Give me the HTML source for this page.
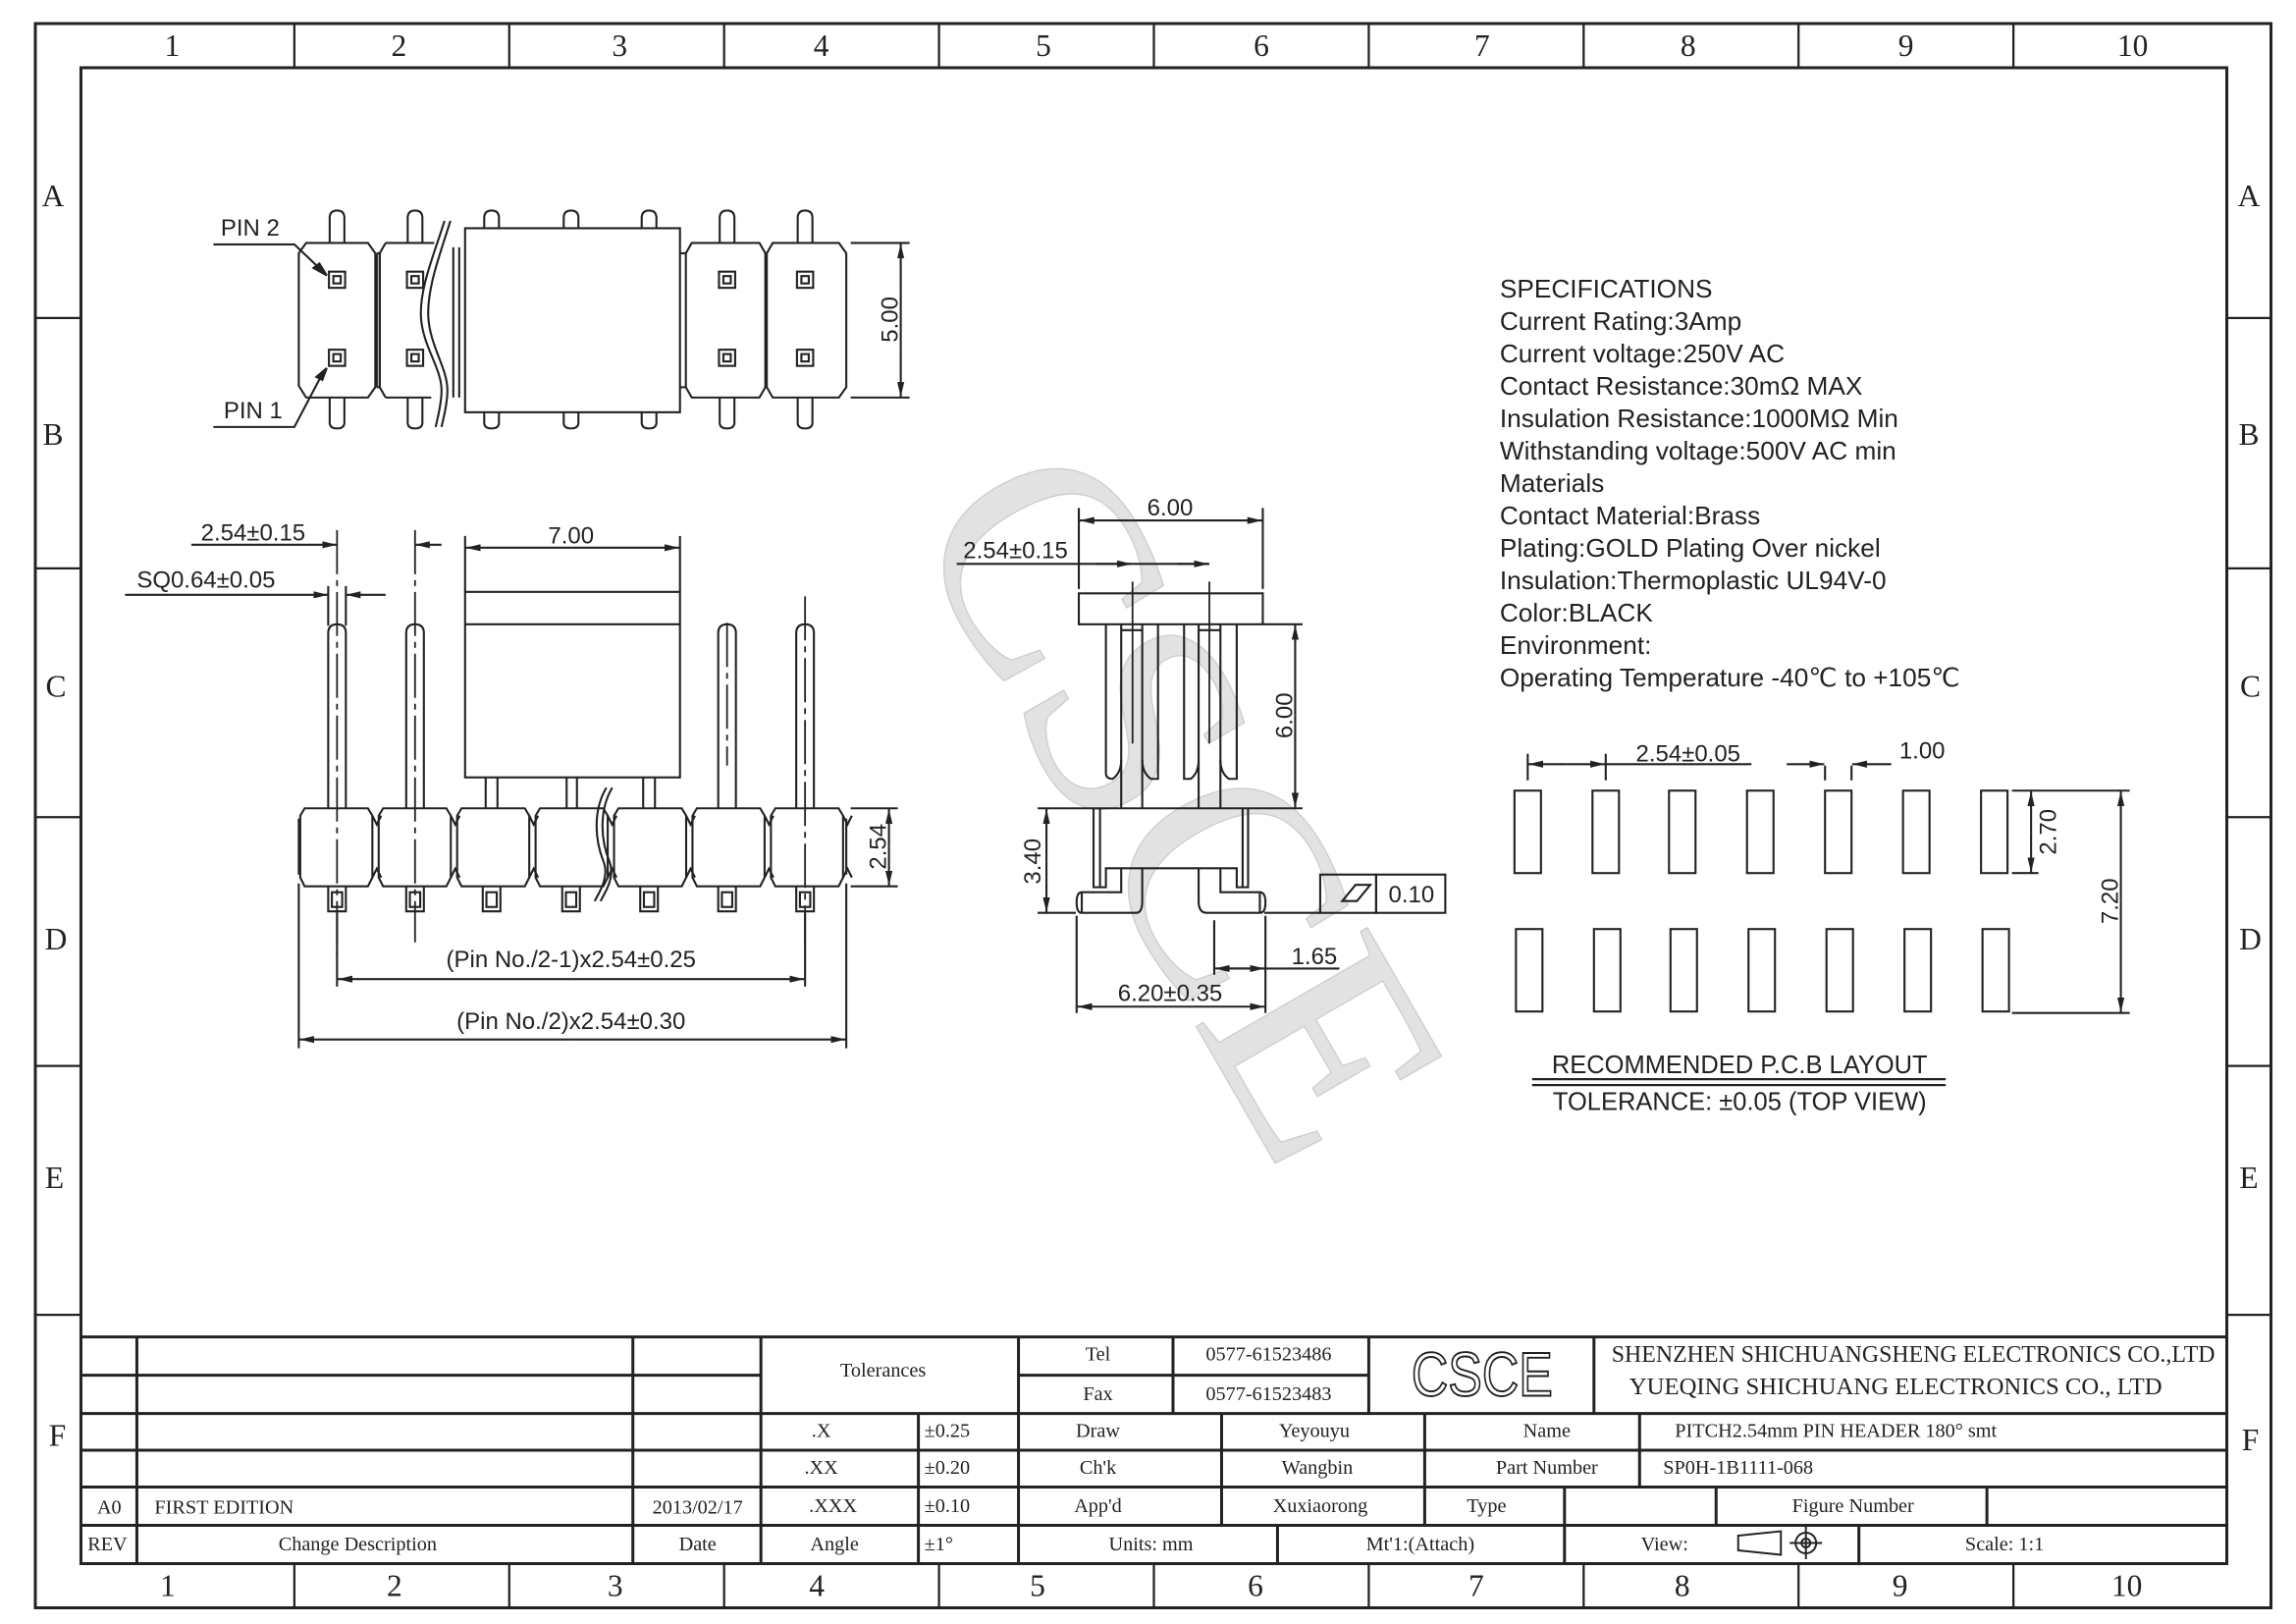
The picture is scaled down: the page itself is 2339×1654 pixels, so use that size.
<!DOCTYPE html>
<html><head><meta charset="utf-8"><style>
html,body{margin:0;padding:0;background:#fff}
svg{display:block}
.d{font-family:"Liberation Sans",Arial,sans-serif;fill:#222}
.s{font-family:"Liberation Serif",serif;fill:#222}
</style></head><body>
<svg xmlns="http://www.w3.org/2000/svg" width="2339" height="1654" viewBox="0 0 1560 1103" preserveAspectRatio="none">
<defs>
<marker id="a" viewBox="0 0 10 6" refX="10" refY="3" markerWidth="10" markerHeight="6" markerUnits="userSpaceOnUse" orient="auto-start-reverse"><path d="M0,0.6 L10,3 L0,5.4z" fill="#222"/></marker>
</defs>
<rect width="1560" height="1103" fill="#fff"/>
<!-- watermark -->
<text x="785" y="555" transform="rotate(60 785 555)" text-anchor="middle" dominant-baseline="middle" font-family="Liberation Serif,serif" font-size="205" fill="#e2e2e2" stroke="#d0d0d0" stroke-width="1">CSCE</text>

<g fill="none" stroke="#222">
<!-- frames -->
<rect x="24" y="16" width="1519" height="1076" stroke-width="2"/>
<rect x="55" y="46" width="1458" height="1016" stroke-width="2"/>
<g stroke-width="1.5">
<path d="M200 16V46M346 16V46M492 16V46M638 16V46M784 16V46M930 16V46M1076 16V46M1222 16V46M1368 16V46"/>
<path d="M200 1062V1092M346 1062V1092M492 1062V1092M638 1062V1092M784 1062V1092M930 1062V1092M1076 1062V1092M1222 1062V1092M1368 1062V1092"/>
<path d="M24 216H55M24 386H55M24 555H55M24 724H55M24 893H55M1513 216H1543M1513 386H1543M1513 555H1543M1513 724H1543M1513 893H1543"/>
</g>
<!-- title block -->
<g stroke-width="2">
<path d="M55 908H1513M55 934H517M692 934H930M55 960H1513M55 985H1513M55 1010H1513M55 1036H1513"/>
<path d="M93 908V1062M430 908V1062M517 908V1062M692 908V1062M624 960V1062M797 908V960M930 908V960M1083 908V960M830 960V1036M968 960V1036M1114 960V1010M1063 1010V1062M1166 1010V1036M1350 1010V1036M868 1036V1062M1263 1036V1062"/>
</g>
<!-- view icon -->
<path d="M1181 1043L1210 1040V1056L1181 1053Z M1181 1046V1050" stroke-width="1.3"/>
<circle cx="1227" cy="1048" r="7" stroke-width="1.3"/><circle cx="1227" cy="1048" r="3" stroke-width="1.3"/>
<path d="M1216 1048H1238M1227 1037V1059" stroke-width="1.3"/>

<g stroke-width="1.4">
<!-- TOP VIEW -->
<g id="tp">
<path d="M224 165V148Q224 143 229 143Q234 143 234 148V165M224 270V287Q224 291 229 291Q234 291 234 287V270"/>
<rect x="223.5" y="184.5" width="11" height="11"/><rect x="226.5" y="187.5" width="5" height="5"/>
<rect x="223.5" y="237.5" width="11" height="11"/><rect x="226.5" y="240.5" width="5" height="5"/>
</g>
<use href="#tp" x="53"/><use href="#tp" x="265"/><use href="#tp" x="318"/>
<path d="M329 155V148Q329 143 334 143Q339 143 339 148V155M383 155V148Q383 143 388 143Q393 143 393 148V155M436 155V148Q436 143 441 143Q446 143 446 148V155"/>
<path d="M329 280V287Q329 291 334 291Q339 291 339 287V280M383 280V287Q383 291 388 291Q393 291 393 287V280M436 280V287Q436 291 441 291Q446 291 446 287V280"/>
<rect x="316" y="155" width="146" height="125"/>
<path d="M208 165H250L255 172V263L250 270H208L203 262V172Z"/>
<path d="M262 165H295M262 270H293M262 165L258 172V263L262 270"/>
<path d="M256 172H258M256 263H258M256 172V263M258 172V263"/>
<path d="M470 165H516L520 172V263L516 270H470L466 263V172Z"/>
<path d="M525 165H570L575 172V263L570 270H525L521 263V172Z"/>
<path d="M462 172H466M462 263H466"/>
<path d="M308 168V270M312 168V270"/>
<path d="M302 150C296 170 285 195 286 215C287 235 300 250 300 265C300 275 297 285 296 290M306 150C300 170 290 195 291 215C292 235 304 250 304 265C304 275 301 285 300 290"/>
<!-- 5.00 -->
<path d="M578 165H618M578 270H618"/>
<line x1="612" y1="200" x2="612" y2="165.5" marker-end="url(#a)"/><line x1="612" y1="235" x2="612" y2="269.5" marker-end="url(#a)"/>
<line x1="612" y1="200" x2="612" y2="235"/>
<!-- pin leaders -->
<path d="M145 166H200L220 185M145 290H200L220 252"/>
<path d="M222 187L213 182L217 179Z M222 250L215 256L219 258Z" fill="#222"/>

<!-- FRONT VIEW -->
<g id="fb">
<path d="M207 549H250L253 554V596L250 602H207L204 596V554Z"/>
<path d="M253 554L256 560L259 554M253 596L256 590L259 596"/>
</g>
<use href="#fb" x="53.3"/><use href="#fb" x="106.6"/><use href="#fb" x="159.9"/><use href="#fb" x="213.2"/><use href="#fb" x="266.5"/><use href="#fb" x="319.8"/>
<path d="M203 556V594M575 556V594"/>
<g id="tall"><path d="M223 549V430Q223 424 229 424Q235 424 235 430V549"/></g>
<use href="#tall" x="53"/><use href="#tall" x="265"/><use href="#tall" x="318"/>
<g id="sq"><path d="M223 602V619H235V602"/><rect x="225.5" y="606" width="7" height="10"/></g>
<use href="#sq" x="53"/><use href="#sq" x="105"/><use href="#sq" x="159"/><use href="#sq" x="212"/><use href="#sq" x="265"/><use href="#sq" x="318"/>
<rect x="316" y="402" width="146" height="126"/><path d="M316 424H462"/>
<path d="M330 528V549M338 528V549M385 528V549M392 528V549M437 528V549M445 528V549"/>
<path d="M412 535C403 550 404 570 410 585C414 595 408 605 404 612M416 535C407 550 408 570 414 585C418 595 412 605 408 612" stroke="#222"/>
<path d="M229 360V655M282 360V640M547 405V640M494 423V520" stroke-dasharray="30 4 4 4" stroke-width="1.2"/>
<!-- dims front -->
<line x1="130" y1="370" x2="229" y2="370" marker-end="url(#a)"/><line x1="300" y1="370" x2="282" y2="370" marker-end="url(#a)"/>
<path d="M223 398V425M235 398V425"/>
<line x1="85" y1="404" x2="223" y2="404" marker-end="url(#a)"/><line x1="262" y1="404" x2="235" y2="404" marker-end="url(#a)"/>
<path d="M316 364V402M462 364V402"/>
<line x1="389" y1="372" x2="316.5" y2="372" marker-end="url(#a)"/><line x1="389" y1="372" x2="461.5" y2="372" marker-end="url(#a)"/>
<path d="M578 549H610M578 602H610"/>
<line x1="604" y1="575" x2="604" y2="549.5" marker-end="url(#a)"/><line x1="604" y1="575" x2="604" y2="601.5" marker-end="url(#a)"/>
<path d="M229 620V670M547 620V670M203 600V712M575 600V712"/>
<line x1="388" y1="665" x2="229.5" y2="665" marker-end="url(#a)"/><line x1="388" y1="665" x2="546.5" y2="665" marker-end="url(#a)"/>
<line x1="388" y1="706" x2="203.5" y2="706" marker-end="url(#a)"/><line x1="388" y1="706" x2="574.5" y2="706" marker-end="url(#a)"/>

<!-- SIDE VIEW -->
<rect x="733" y="403" width="125" height="21"/>
<path d="M751.4 424V525Q751.4 529 756 529Q761.8 525 761.8 516"/>
<path d="M761.8 424V549M776.1 424V549M814.4 424V549M829.2 424V549"/>
<path d="M776.1 516Q776.1 525 782 529H786.8V424M804.5 424V529H809Q814.4 525 814.4 516"/>
<path d="M829.2 516Q829.2 525 835 529H840.3V424"/>
<path d="M762 428H776M814 428H829"/>
<path d="M769.5 395V505M821.7 395V505" stroke-width="1.2"/>
<path d="M743 549H848M743 549V602.6H751.4V589.7H840.3V602.6H848V549M747.4 549V602.6M844.3 549V602.6"/>
<path d="M761.8 589.7V606H735Q731.5 606 731.5 613Q731.5 620 735 620H772Q776.1 620 776.1 612V589.7"/>
<path d="M829.2 589.7V606H856Q859.8 606 859.8 613Q859.8 620 856 620H820Q814.4 620 814.4 612V589.7"/>
<path d="M735 606V620M856 606V620"/>
<!-- side dims -->
<path d="M733 345V400M858 345V400"/>
<line x1="795" y1="353.5" x2="733.5" y2="353.5" marker-end="url(#a)"/><line x1="795" y1="353.5" x2="857.5" y2="353.5" marker-end="url(#a)"/>
<path d="M650 383H769.5"/>
<line x1="745" y1="383" x2="769" y2="383" marker-end="url(#a)"/><line x1="800" y1="383" x2="821.2" y2="383" marker-end="url(#a)" />
<path d="M769.5 383H821.7"/>
<path d="M858 424H885M848 549H885"/>
<line x1="880" y1="486" x2="880" y2="424.5" marker-end="url(#a)"/><line x1="880" y1="486" x2="880" y2="548.5" marker-end="url(#a)"/>
<path d="M705 549H743M705 620H731"/>
<line x1="711" y1="585" x2="711" y2="549.5" marker-end="url(#a)"/><line x1="711" y1="585" x2="711" y2="619.5" marker-end="url(#a)"/>
<path d="M731.5 622V688M859.8 622V688M825 625V662"/>
<line x1="795" y1="683.7" x2="732" y2="683.7" marker-end="url(#a)"/><line x1="795" y1="683.7" x2="859.3" y2="683.7" marker-end="url(#a)"/>
<line x1="910" y1="657.8" x2="825.5" y2="657.8"/>
<line x1="842" y1="657.8" x2="825.5" y2="657.8" marker-end="url(#a)"/><line x1="842" y1="657.8" x2="859.3" y2="657.8" marker-end="url(#a)"/>
<path d="M859 620H897"/>
<rect x="897" y="594" width="38" height="26"/><rect x="935" y="594" width="47" height="26"/>
<path d="M912 612L921 601H931L922 612Z"/>

<!-- PCB -->
<g id="pads">
<rect x="1029" y="537" width="18" height="56"/><rect x="1082" y="537" width="18" height="56"/><rect x="1134" y="537" width="18" height="56"/><rect x="1187" y="537" width="18" height="56"/><rect x="1240" y="537" width="18" height="56"/><rect x="1293" y="537" width="18" height="56"/><rect x="1346" y="537" width="18" height="56"/>
</g>
<use href="#pads" x="1" y="94"/>
<path d="M1038 512V530M1091 512V530M1240 520V530M1258 520V530"/>
<line x1="1064" y1="519" x2="1038.5" y2="519" marker-end="url(#a)"/><line x1="1064" y1="519" x2="1090.5" y2="519" marker-end="url(#a)"/>
<path d="M1091 519H1190"/>
<line x1="1214" y1="519" x2="1239.5" y2="519" marker-end="url(#a)"/><line x1="1285" y1="519" x2="1258.5" y2="519" marker-end="url(#a)"/>
<path d="M1367 537H1447M1367 593H1385M1367 688H1447"/>
<line x1="1380" y1="565" x2="1380" y2="537.5" marker-end="url(#a)"/><line x1="1380" y1="565" x2="1380" y2="592.5" marker-end="url(#a)"/>
<line x1="1441" y1="612" x2="1441" y2="537.5" marker-end="url(#a)"/><line x1="1441" y1="612" x2="1441" y2="687.5" marker-end="url(#a)"/>
<path d="M1041 733H1322M1041 737H1322" stroke-width="1.5"/>
</g>
</g>

<!-- column / row labels -->
<g class="s" font-size="21" text-anchor="middle">
<text x="117" y="38">1</text><text x="271" y="38">2</text><text x="421" y="38">3</text><text x="558" y="38">4</text><text x="709" y="38">5</text><text x="857" y="38">6</text><text x="1007" y="38">7</text><text x="1147" y="38">8</text><text x="1295" y="38">9</text><text x="1449" y="38">10</text>
<text x="114" y="1084">1</text><text x="268" y="1084">2</text><text x="418" y="1084">3</text><text x="555" y="1084">4</text><text x="705" y="1084">5</text><text x="853" y="1084">6</text><text x="1003" y="1084">7</text><text x="1143" y="1084">8</text><text x="1291" y="1084">9</text><text x="1445" y="1084">10</text>
<text x="36" y="140">A</text><text x="36" y="302">B</text><text x="38" y="473">C</text><text x="38" y="645">D</text><text x="37" y="807">E</text><text x="39" y="982">F</text>
<text x="1528" y="140">A</text><text x="1528" y="302">B</text><text x="1529" y="473">C</text><text x="1529" y="645">D</text><text x="1528" y="807">E</text><text x="1529" y="985">F</text>
</g>

<!-- title block text -->
<g class="s" font-size="13.5">
<text x="66" y="1028">A0</text><text x="105" y="1028">FIRST EDITION</text><text x="474" y="1028" text-anchor="middle">2013/02/17</text>
<text x="73" y="1053" text-anchor="middle">REV</text><text x="243" y="1053" text-anchor="middle">Change Description</text><text x="474" y="1053" text-anchor="middle">Date</text>
<text x="600" y="935" text-anchor="middle">Tolerances</text>
<text x="558" y="976" text-anchor="middle">.X</text><text x="558" y="1001" text-anchor="middle">.XX</text><text x="566" y="1027" text-anchor="middle">.XXX</text><text x="567" y="1053" text-anchor="middle">Angle</text>
<text x="628" y="976">±0.25</text><text x="628" y="1001">±0.20</text><text x="628" y="1027">±0.10</text><text x="628" y="1053">±1°</text>
<text x="746" y="924" text-anchor="middle">Tel</text><text x="746" y="951" text-anchor="middle">Fax</text>
<text x="862" y="924" text-anchor="middle">0577-61523486</text><text x="862" y="951" text-anchor="middle">0577-61523483</text>
<text x="746" y="976" text-anchor="middle">Draw</text><text x="746" y="1001" text-anchor="middle">Ch'k</text><text x="746" y="1027" text-anchor="middle">App'd</text>
<text x="893" y="976" text-anchor="middle">Yeyouyu</text><text x="895" y="1001" text-anchor="middle">Wangbin</text><text x="897" y="1027" text-anchor="middle">Xuxiaorong</text>
<text x="1051" y="976" text-anchor="middle">Name</text><text x="1051" y="1001" text-anchor="middle">Part Number</text><text x="1010" y="1027" text-anchor="middle">Type</text>
<text x="1138" y="976">PITCH2.54mm PIN HEADER 180° smt</text><text x="1130" y="1001">SP0H-1B1111-068</text>
<text x="1259" y="1027" text-anchor="middle">Figure Number</text>
<text x="782" y="1053" text-anchor="middle">Units: mm</text><text x="965" y="1053" text-anchor="middle">Mt'1:(Attach)</text><text x="1131" y="1053" text-anchor="middle">View:</text><text x="1362" y="1053" text-anchor="middle">Scale: 1:1</text>
<text x="1095" y="925" font-size="16" textLength="410" lengthAdjust="spacingAndGlyphs">SHENZHEN SHICHUANGSHENG ELECTRONICS CO.,LTD</text>
<text x="1107" y="947" font-size="16" textLength="362" lengthAdjust="spacingAndGlyphs">YUEQING SHICHUANG ELECTRONICS CO., LTD</text>
</g>
<text x="1007" y="948" text-anchor="middle" font-family="Liberation Sans,sans-serif" font-size="42" fill="#fff" stroke="#222" stroke-width="1.3" textLength="96" lengthAdjust="spacingAndGlyphs">CSCE</text>

<!-- drawing labels -->
<g class="d" font-size="16">
<text x="150" y="160">PIN 2</text><text x="152" y="284">PIN 1</text>
<text x="172" y="367" text-anchor="middle">2.54±0.15</text>
<text x="140" y="399" text-anchor="middle">SQ0.64±0.05</text>
<text x="388" y="369" text-anchor="middle">7.00</text>
<text x="388" y="657" text-anchor="middle">(Pin No./2-1)x2.54±0.25</text>
<text x="388" y="699" text-anchor="middle">(Pin No./2)x2.54±0.30</text>
<text transform="translate(610 217) rotate(-90)" text-anchor="middle">5.00</text>
<text transform="translate(602 575) rotate(-90)" text-anchor="middle">2.54</text>
<text x="795" y="350" text-anchor="middle">6.00</text>
<text x="690" y="379" text-anchor="middle">2.54±0.15</text>
<text transform="translate(878 486) rotate(-90)" text-anchor="middle">6.00</text>
<text transform="translate(707 585) rotate(-90)" text-anchor="middle">3.40</text>
<text x="893" y="655" text-anchor="middle">1.65</text>
<text x="795" y="680" text-anchor="middle">6.20±0.35</text>
<text x="959" y="613" text-anchor="middle">0.10</text>
<text x="1147" y="517" text-anchor="middle">2.54±0.05</text>
<text x="1306" y="515" text-anchor="middle">1.00</text>
<text transform="translate(1397 565) rotate(-90)" text-anchor="middle">2.70</text>
<text transform="translate(1439 612) rotate(-90)" text-anchor="middle">7.20</text>
<text x="1182" y="729" text-anchor="middle" font-size="17">RECOMMENDED P.C.B LAYOUT</text>
<text x="1182" y="754" text-anchor="middle" font-size="17">TOLERANCE: ±0.05 (TOP VIEW)</text>
</g>
<g class="d" font-size="17.5">
<text x="1019" y="202">SPECIFICATIONS</text>
<text x="1019" y="224">Current Rating:3Amp</text>
<text x="1019" y="246">Current voltage:250V AC</text>
<text x="1019" y="268">Contact Resistance:30mΩ MAX</text>
<text x="1019" y="290">Insulation Resistance:1000MΩ Min</text>
<text x="1019" y="312">Withstanding voltage:500V AC min</text>
<text x="1019" y="334">Materials</text>
<text x="1019" y="356">Contact Material:Brass</text>
<text x="1019" y="378">Plating:GOLD Plating Over nickel</text>
<text x="1019" y="400">Insulation:Thermoplastic UL94V-0</text>
<text x="1019" y="422">Color:BLACK</text>
<text x="1019" y="444">Environment:</text>
<text x="1019" y="466">Operating Temperature  -40℃ to +105℃</text>
</g>
</svg>
</body></html>
